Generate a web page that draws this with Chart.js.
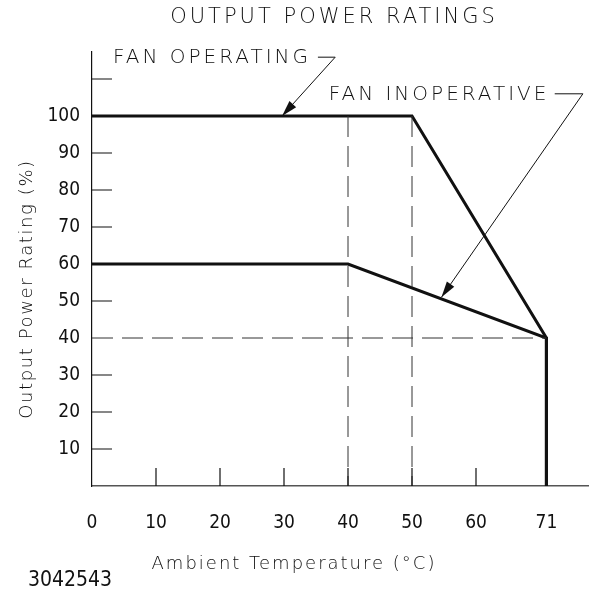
<!DOCTYPE html>
<html>
<head>
<meta charset="utf-8">
<script src="https://cdn.jsdelivr.net/npm/chart.js@4"></script>
<style>
  html, body { margin: 0; padding: 0; background: #fff; }
  #chart { display: block; }
</style>
</head>
<body>
<canvas id="chart" width="594" height="597"></canvas>
<script>
// curve data (ambient temp in C, output rating in %)
const fanOperatingX = [0, 50, 71, 71];
const fanOperatingY = [100, 100, 40, 0];
const fanInoperativeX = [0, 40, 71, 71];
const fanInoperativeY = [60, 60, 40, 0];

// dashed guide lines
const guide40hX = [0, 71];
const guide40hY = [40, 40];
const guide40vX = [40, 40];
const guide40vY = [100, 0];
const guide50vX = [50, 50];
const guide50vY = [100, 0];

// axis ticks
const xTicks = [0, 10, 20, 30, 40, 50, 60, 71];
const xTickLabels = ["0", "10", "20", "30", "40", "50", "60", "71"];
const xTickMarks = [10, 20, 30, 40, 50, 60];
const yTicks = [10, 20, 30, 40, 50, 60, 70, 80, 90, 100];
const yTickLabels = ["10", "20", "30", "40", "50", "60", "70", "80", "90", "100"];
const yTickMarks = [10, 20, 30, 50, 70, 80, 90, 110];

const toPts = (xs, ys) => xs.map((x, i) => ({ x, y: ys[i] }));

const INK = "#111";
const THIN = "'DejaVu Sans', sans-serif";
const NARROW = "'Liberation Sans Narrow', 'DejaVu Sans Condensed', sans-serif";

function arrowLeader(ctx, pts, tip) {
    ctx.beginPath();
    ctx.moveTo(pts[0][0], pts[0][1]);
    for (let i = 1; i < pts.length; i++) ctx.lineTo(pts[i][0], pts[i][1]);
    ctx.lineTo(tip[0], tip[1]);
    ctx.stroke();
    const prev = pts[pts.length - 1];
    const a = Math.atan2(tip[1] - prev[1], tip[0] - prev[0]);
    const len = 16, half = 4.5;
    ctx.beginPath();
    ctx.moveTo(tip[0], tip[1]);
    ctx.lineTo(tip[0] - len * Math.cos(a) + half * Math.sin(a), tip[1] - len * Math.sin(a) - half * Math.cos(a));
    ctx.lineTo(tip[0] - len * Math.cos(a) - half * Math.sin(a), tip[1] - len * Math.sin(a) + half * Math.cos(a));
    ctx.closePath();
    ctx.fill();
}

const drawingPlugin = {
    id: "drawing",
    afterDraw(chart) {
        const { ctx, chartArea, scales: { x, y } } = chart;
        const px = v => x.getPixelForValue(v);
        const py = v => y.getPixelForValue(v);
        ctx.save();
        ctx.strokeStyle = INK;
        ctx.fillStyle = INK;

        // inward tick marks
        ctx.lineWidth = 1.2;
        ctx.beginPath();
        yTickMarks.forEach(v => { ctx.moveTo(chartArea.left, py(v)); ctx.lineTo(chartArea.left + 20, py(v)); });
        xTickMarks.forEach(v => { ctx.moveTo(px(v), chartArea.bottom); ctx.lineTo(px(v), chartArea.bottom - 18); });
        ctx.stroke();

        // texts
        ctx.textBaseline = "middle";
        ctx.font = "200 21px " + THIN;
        ctx.letterSpacing = "3px";
        ctx.textAlign = "center";
        ctx.fillText("OUTPUT POWER RATINGS", 334, 18);
        ctx.textAlign = "left";
        ctx.font = "200 20px " + THIN;
        ctx.fillText("FAN OPERATING", px(3.3), py(115.7));
        ctx.fillText("FAN INOPERATIVE", px(37), py(105.7));

        ctx.font = "200 18px " + THIN;
        ctx.letterSpacing = "2px";
        ctx.textAlign = "center";
        ctx.fillText("Ambient Temperature (\u00B0C)", 294, 564);
        ctx.save();
        ctx.translate(27, 289);
        ctx.rotate(-Math.PI / 2);
        ctx.letterSpacing = "1.6px";
        ctx.fillText("Output Power Rating (%)", 0, 0);
        ctx.restore();
        ctx.letterSpacing = "0px";
        ctx.textAlign = "left";
        ctx.font = "21px " + NARROW;
        ctx.fillText("3042543", 28, 581);

        // leaders with arrows
        ctx.lineWidth = 1;
        arrowLeader(ctx, [[px(35.3), py(115.9)], [px(38), py(115.9)]], [px(29.7), py(100)]);
        arrowLeader(ctx, [[px(72.3), py(106)], [px(76.7), py(106)]], [px(54.6), py(51)]);
        ctx.restore();
    }
};

const solid = { borderColor: INK, borderWidth: 3, pointRadius: 0, tension: 0, fill: false };
const dashed = { borderColor: "#333", borderWidth: 1, borderDash: [21, 9], pointRadius: 0, tension: 0, fill: false };

new Chart(document.getElementById("chart"), {
    type: "line",
    data: {
        datasets: [
            { label: "guide 40 h", data: toPts(guide40hX, guide40hY), ...dashed },
            { label: "guide 40 v", data: toPts(guide40vX, guide40vY), ...dashed },
            { label: "guide 50 v", data: toPts(guide50vX, guide50vY), ...dashed },
            { label: "Fan operating", data: toPts(fanOperatingX, fanOperatingY), ...solid },
            { label: "Fan inoperative", data: toPts(fanInoperativeX, fanInoperativeY), ...solid }
        ]
    },
    options: {
        responsive: false,
        animation: false,
        devicePixelRatio: 1,
        layout: { padding: { left: 0, top: 52, right: 6, bottom: 51 } },
        plugins: { legend: { display: false }, tooltip: { enabled: false }, title: { display: false } },
        scales: {
            x: {
                type: "linear",
                min: 0,
                max: 77.5,
                grid: { display: false, drawTicks: false },
                border: { display: true, color: "#555", width: 1.5 },
                afterBuildTicks: s => { s.ticks = xTicks.map(v => ({ value: v })); },
                afterFit: s => { s.height = 60; },
                ticks: {
                    autoSkip: false,
                    maxRotation: 0,
                    padding: 26,
                    color: INK,
                    font: { family: NARROW, size: 19 },
                    callback: v => xTickLabels[xTicks.indexOf(v)]
                }
            },
            y: {
                type: "linear",
                min: 0,
                max: 117.3,
                grid: { display: false, drawTicks: false },
                border: { display: true, color: INK, width: 1.2 },
                afterBuildTicks: s => { s.ticks = yTicks.map(v => ({ value: v })); },
                afterFit: s => { s.width = 92; },
                ticks: {
                    autoSkip: false,
                    padding: 12,
                    color: INK,
                    font: { family: NARROW, size: 19 },
                    callback: v => yTickLabels[yTicks.indexOf(v)]
                }
            }
        }
    },
    plugins: [drawingPlugin]
});
</script>
</body>
</html>
